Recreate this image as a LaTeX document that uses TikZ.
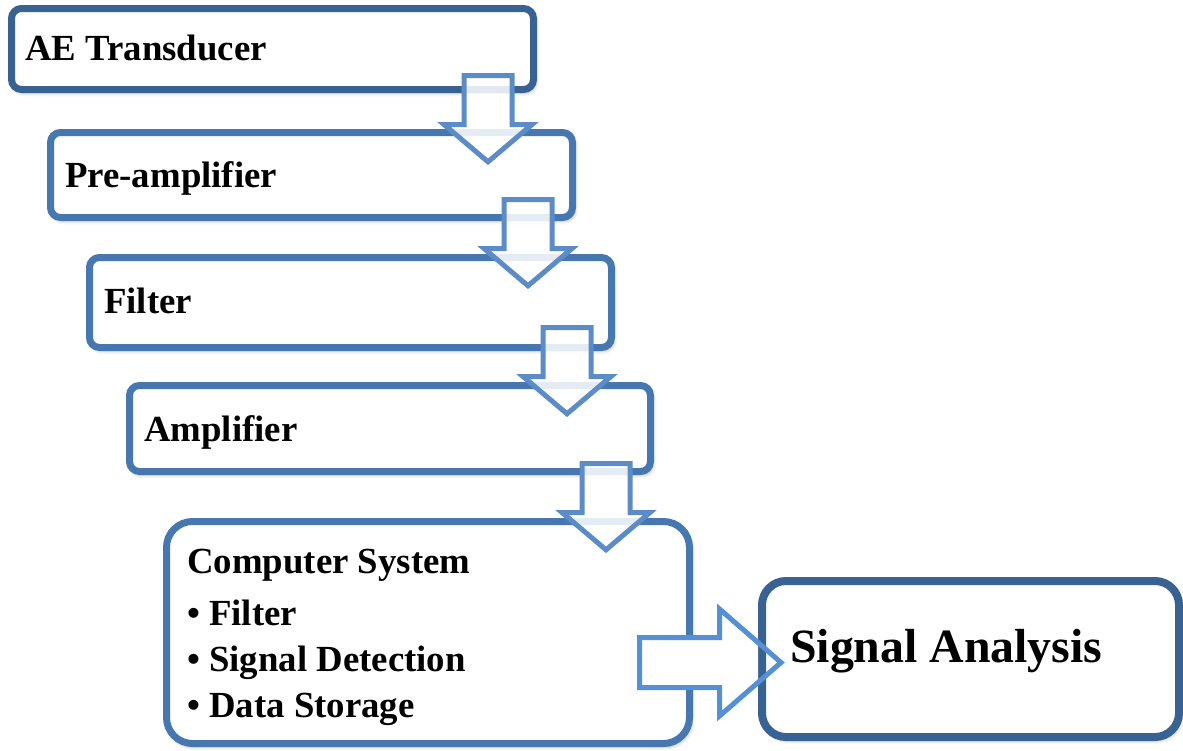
\documentclass[tikz,border=0pt]{standalone}
\usepackage{fontspec}
\setmainfont{Liberation Serif}
\usetikzlibrary{shadows.blur}

\definecolor{boxdark}{RGB}{56,98,146}
\definecolor{boxmid}{RGB}{70,119,175}
\definecolor{arrowblue}{RGB}{92,140,200}
\definecolor{arrowbright}{RGB}{85,143,214}

% outline of the block arrow pointing to the analysis box
\newcommand\sigarrowpath{(639.5,637.5) -- (719.5,637.5) -- (719.5,609) -- (781,662.5)
  -- (719.5,716) -- (719.5,687.5) -- (639.5,687.5) -- cycle}

\tikzset{
  boxshadow/.style={blur shadow={shadow xshift=2pt, shadow yshift=-3pt,
      shadow blur radius=4pt, shadow opacity=35}},
  stage/.style={draw=boxmid, line width=7pt, fill=white, rounded corners=10pt,
    inner sep=0pt, outer sep=0pt, anchor=north west, boxshadow},
  stagetext/.style={anchor=base west, inner sep=0pt,
    font=\fontsize{36.8}{44}\selectfont\bfseries},
  % hollow block arrow pointing down; the origin is its tip
  downarr/.pic={
    \path[draw=arrowblue, line width=5pt, fill=white, fill opacity=0.86, line join=miter]
      (-24,-89.5) -- (24,-89.5) -- (24,-40.5) -- (44,-40.5) -- (0,-3.2)
      -- (-44,-40.5) -- (-24,-40.5) -- cycle;
  }
}

\begin{document}
\begin{tikzpicture}[x=1pt,y=-1pt]
\useasboundingbox (0,0) rectangle (1183,750);

% processing chain
\node[stage, draw=boxdark, minimum width=522pt, minimum height=81pt] (b1) at (11.5,8.5) {};
\node[stage, minimum width=522pt, minimum height=85pt] (b2) at (50.5,132.5) {};
\node[stage, minimum width=522pt, minimum height=90pt] (b3) at (89.5,257.5) {};
\node[stage, minimum width=521pt, minimum height=86pt] (b4) at (129.5,385.5) {};
\node[stage, rounded corners=26pt, minimum width=523pt, minimum height=222pt] (b5) at (166.5,521.5) {};
\node[stage, draw=boxdark, line width=8pt, rounded corners=24pt, minimum width=417pt, minimum height=156pt] (b6) at (762,581) {};

% labels
\node[stagetext] (t1) at (25,60) {AE Transducer};
\node[stagetext] (t2) at (65,187) {Pre-amplifier};
\node[stagetext] (t3) at (104,313) {Filter};
\node[stagetext] (t4) at (144,441) {Amplifier};
\node[stagetext] (t5) at (187,573) {Computer System};
\node[stagetext] (t6) at (187,625) {• Filter};
\node[stagetext] (t7) at (187,671) {• Signal Detection};
\node[stagetext] (t8) at (187,717) {• Data Storage};

% flow between the stages
\coordinate (a1) at (488,165);
\coordinate (a2) at (528,289);
\coordinate (a3) at (567,417);
\coordinate (a4) at (606,553);
\pic at (a1) {downarr};
\pic at (a2) {downarr};
\pic at (a3) {downarr};
\pic at (a4) {downarr};

% hand-over to the analysis box: white body only outside that box
\begin{scope}
  \clip (600,560) rectangle (758,750);
  \fill[white] \sigarrowpath;
\end{scope}
\draw[arrowbright, line width=5pt, line join=miter] \sigarrowpath;

\node[anchor=base west, inner sep=0pt, font=\fontsize{47.8}{56}\selectfont\bfseries]
  (t9) at (790,662) {Signal Analysis};
\end{tikzpicture}
\end{document}
